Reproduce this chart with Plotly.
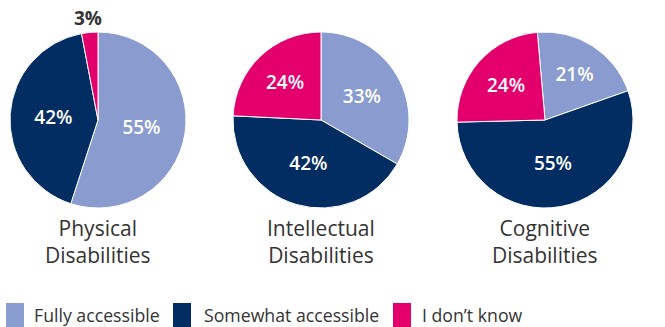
import math
import plotly.graph_objects as go

categories = ["Fully accessible", "Somewhat accessible", "I don't know"]
colors = ["#8A9BCF", "#012D62", "#E3006D"]
groups = ["Physical<br>Disabilities", "Intellectual<br>Disabilities", "Cognitive<br>Disabilities"]
physical = [55, 42, 3]
intellectual = [33, 42, 24]
cognitive = [21, 55, 24]
series = [physical, intellectual, cognitive]
rotations = [0, 0, -5]

W, H = 665, 327
centers_x = [98, 321, 545]
cy, r = 120, 88

fig = go.Figure()
for i, vals in enumerate(series):
    cx = centers_x[i]
    small = [v < 10 for v in vals]
    templates = ["" if s else "%{value}%" for s in small]
    fig.add_trace(go.Pie(
        labels=categories, values=vals, sort=False, direction="clockwise",
        rotation=rotations[i],
        marker=dict(colors=colors, line=dict(color="white", width=1)),
        texttemplate=templates, textposition="inside",
        insidetextorientation="horizontal",
        textfont=dict(size=19, color="white", family="Open Sans", weight=600),
        domain=dict(x=[(cx - r) / W, (cx + r) / W], y=[1 - (cy + r) / H, 1 - (cy - r) / H]),
        showlegend=False, hoverinfo="label+percent",
    ))
    # outside labels for small slices, placed along the slice's mid angle
    total = sum(vals)
    start = rotations[i]
    for v, s in zip(vals, small):
        mid = start + 360 * v / total / 2
        start += 360 * v / total
        if s:
            a = math.radians(mid)
            lx = cx + (r + 14) * math.sin(a)
            ly = cy - (r + 14) * math.cos(a)
            fig.add_annotation(x=lx / W, y=1 - ly / H, xref="paper", yref="paper",
                               text=f"{v}%", showarrow=False, xanchor="center", yanchor="middle",
                               font=dict(size=19, color="#333333", family="Open Sans", weight=700))
    fig.add_annotation(x=cx / W, y=1 - 212 / H, xref="paper", yref="paper",
                       text=groups[i], showarrow=False, xanchor="center", yanchor="top",
                       font=dict(size=21, color="#333333", family="Open Sans"))

# custom legend
sq_x = [6, 173, 393]
txt_x = [32, 202, 420]
for i, cat in enumerate(categories):
    fig.add_shape(type="rect", xref="paper", yref="paper",
                  x0=sq_x[i] / W, x1=(sq_x[i] + 18) / W, y0=0, y1=1 - 303 / H,
                  fillcolor=colors[i], line=dict(width=0))
    fig.add_annotation(x=txt_x[i] / W, y=1 - 315 / H, xref="paper", yref="paper",
                       text=cat.replace("'", "’"), showarrow=False, xanchor="left", yanchor="middle",
                       font=dict(size=17.7, color="#333333", family="Open Sans"))

fig.update_layout(width=W, height=H, margin=dict(l=0, r=0, t=0, b=0),
                  paper_bgcolor="white", plot_bgcolor="white")
fig.write_html("out.html")
